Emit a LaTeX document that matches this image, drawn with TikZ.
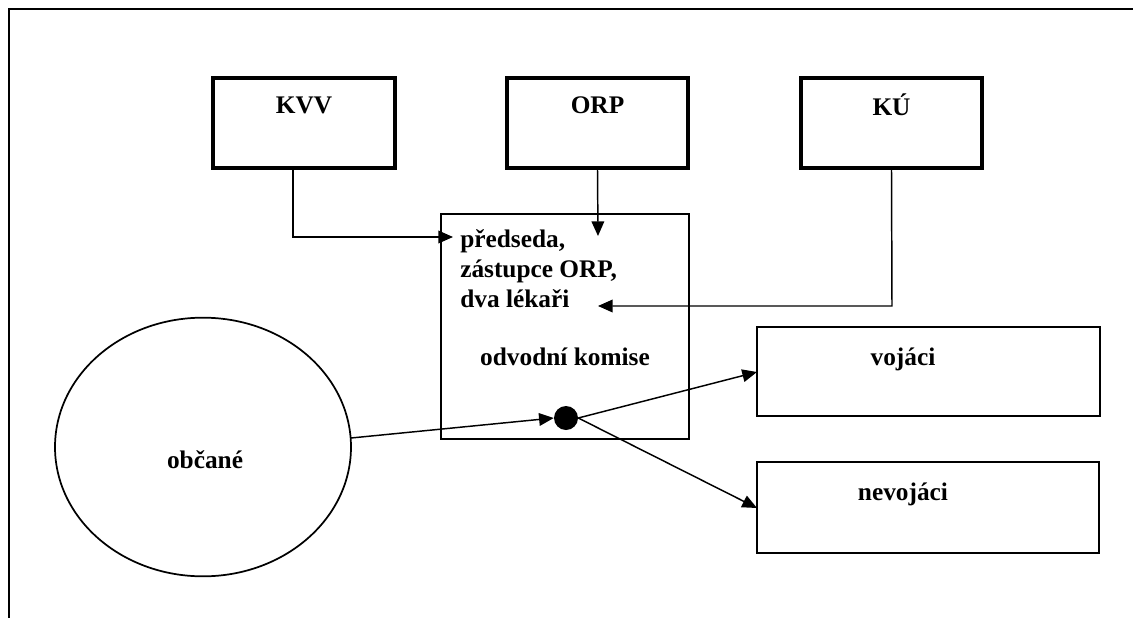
\documentclass[tikz,border=0pt]{standalone}
\usepackage{fontspec}
\setmainfont{Liberation Serif}
\usetikzlibrary{arrows.meta,shapes.geometric}
\begin{document}
\begin{tikzpicture}[x=0.75pt,y=-0.75pt,
  thickbox/.style={draw,line width=3pt,minimum width=136pt,minimum height=67.5pt,inner sep=0pt},
  thinbox/.style={draw,line width=1.3pt,inner sep=0pt},
  lbl/.style={font=\fontsize{19}{22.5}\selectfont\bfseries,inner sep=0pt},
  conn/.style={line width=1.1pt,-{Triangle[length=11pt,width=9.5pt]}}]
\useasboundingbox (0,0) rectangle (1133,618);
% frame
\draw[line width=1.7pt] (9,618) -- (9,9) -- (1133,9);
% top boxes
\node[thickbox] (kvv) at (304,122.5) {};
\node[thickbox] (orp) at (597.5,122.5) {};
\node[thickbox] (ku) at (891.5,122.5) {};
\node[lbl] at (304,105) {KVV};
\node[lbl] at (597.5,105) {ORP};
\node[lbl] at (891.5,105) {KÚ};
% central box
\node[thinbox,minimum width=186pt,minimum height=168.75pt] (ok) at (565,326.5) {};
\node[lbl,anchor=north west,align=left] (members) at (460,229) {předseda,\\zástupce ORP,\\dva lékaři};
\node[lbl] (okl) at (565,357) {odvodní komise};
% connector targets
\coordinate (kvvend) at (453,237);
\coordinate (orpend) at (598,236);
\coordinate (kuend) at (598,306);
\draw[conn] (kvv.south -| 293,0) -- (293,237) -- (kvvend);
\draw[conn] (orp.south) -- (orpend);
\draw[conn] (ku.south) -- (892,306) -- (kuend);
% ellipse
\node[draw,line width=1.3pt,ellipse,minimum width=222pt,minimum height=194pt,inner sep=0pt] (obc) at (203,447) {};
\node[lbl] at (205,460) {občané};
% dot
\node[fill,circle,minimum size=18pt,inner sep=0pt] (dot) at (566,418) {};
% right boxes
\node[thinbox,minimum width=257pt,minimum height=67pt] (voj) at (928.5,371.5) {};
\node[thinbox,minimum width=256pt,minimum height=68pt] (nevoj) at (928,507.5) {};
\node[lbl] at (903,359) {vojáci};
\node[lbl] at (903,494) {nevojáci};
\draw[conn] (351,438) -- (dot.west);
\draw[conn] (dot.east) -- (757,372);
\draw[conn] (dot.east) -- (757,508);
\end{tikzpicture}
\end{document}
